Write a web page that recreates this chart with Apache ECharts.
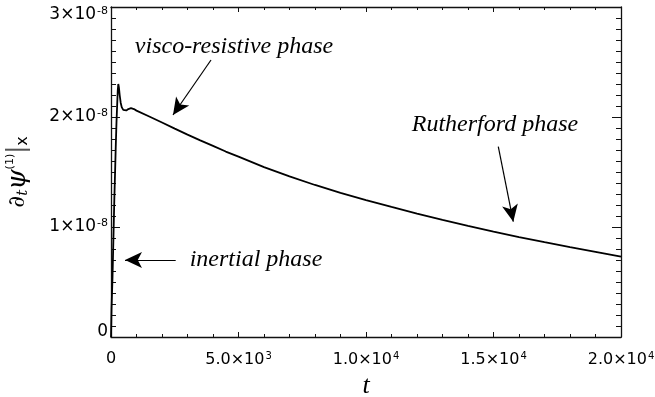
<!DOCTYPE html>
<html>
<head>
<meta charset="utf-8">
<script src="https://cdn.jsdelivr.net/npm/echarts@6/dist/echarts.min.js"></script>
<style>
  html, body { margin: 0; padding: 0; background: #fff; }
  #chart { width: 655px; height: 397px; }
</style>
</head>
<body>
<div id="chart"></div>
<script>
// time samples
const tValues = [
  0, 20, 60, 100, 130, 160, 185, 215, 240, 265, 286, 310, 340, 380, 420, 480,
  540, 600, 680, 784, 900, 1000, 1500, 2000, 2500, 3000, 3500, 4000, 4500, 5000,
  6000, 7000, 8000, 9000, 10000, 11000, 12000, 13000, 14000, 15000, 16000,
  17000, 18000, 19000, 20000
]
// d_t psi^(1) at x, in units of 1e-8
const psiValues = [
  0, 0.25, 0.55, 0.95, 1.25, 1.5, 1.72, 1.95, 2.1, 2.24, 2.30, 2.27, 2.20, 2.13, 2.09, 2.065,
  2.055, 2.06, 2.072, 2.08, 2.072, 2.058, 2.005, 1.95, 1.894, 1.84, 1.788, 1.737, 1.686, 1.64,
  1.545, 1.46, 1.382, 1.31, 1.245, 1.182, 1.122, 1.065, 1.011, 0.959, 0.909,
  0.862, 0.817, 0.774, 0.731
]
// axis tick labels
const xTickLabels = { 0: '0', 5000: '5.0×10|3', 10000: '1.0×10|4', 15000: '1.5×10|4', 20000: '2.0×10|4' }
const yTickLabels = { 0: '0', 1: '1×10|-8', 2: '2×10|-8', 3: '3×10|-8' }
// annotations: text, text position [t, psi], arrow tail, arrow head
const phaseNames = ['visco-resistive phase', 'Rutherford phase', 'inertial phase']
const phaseTextAt = [[4824, 2.636], [15059, 1.927], [5686, 0.70]]
const arrowFrom = [[3922, 2.518], [15188, 1.73], [2537, 0.70]]
const arrowTo = [[2431, 2.018], [15776, 1.048], [549, 0.70]]

const chart = echarts.init(document.getElementById('chart'))

function tickRich(size) {
  return {
    n: { fontFamily: 'DejaVu Sans', fontSize: size, color: '#000' },
    s: { fontFamily: 'DejaVu Sans', fontSize: size - 6, color: '#000', verticalAlign: 'top', padding: [0, 0, 8, 1] },
    // top label sits a little lower, bottom one a little higher
    nt: { fontFamily: 'DejaVu Sans', fontSize: size, color: '#000', padding: [16, 0, 0, 0] },
    st: { fontFamily: 'DejaVu Sans', fontSize: size - 6, color: '#000', verticalAlign: 'top', padding: [16, 0, 8, 1] },
    nb: { fontFamily: 'DejaVu Sans', fontSize: size, color: '#000', padding: [0, 0, 10, 0] }
  }
}
function fmt(map, v, pre) {
  const s = map[Math.round(v * 1000) / 1000]
  if (s === undefined) return ''
  const p = s.split('|')
  const n = pre ? 'n' + pre : 'n'
  const sp = pre ? 's' + pre : 's'
  return p.length > 1 ? `{${n}|${p[0]}}{${sp}|${p[1]}}` : `{${n}|${p[0]}}`
}

const axisLine = { show: true, onZero: false, lineStyle: { color: '#111', width: 1.3 } }

const xBase = {
  type: 'value', min: 0, max: 20000, interval: 5000,
  axisLine: axisLine,
  splitLine: { show: false },
  axisTick: { show: true, inside: true, length: 5, lineStyle: { color: '#111' } },
  minorTick: { show: true, splitNumber: 5, length: 3, lineStyle: { color: '#111' } }
}
const yBase = {
  type: 'value', min: 0, max: 3, interval: 1,
  axisLine: axisLine,
  splitLine: { show: false },
  axisTick: { show: true, inside: true, length: 9, lineStyle: { color: '#111' } },
  minorTick: { show: true, splitNumber: 10, length: 5, lineStyle: { color: '#111' } }
}

const option = {
  animation: false,
  backgroundColor: '#fff',
  grid: { left: 111, right: 34, top: 7, bottom: 60, containLabel: false, outerBoundsMode: 'none' },
  xAxis: [
    Object.assign({}, xBase, {
      position: 'bottom',
      name: 't', nameLocation: 'middle', nameGap: 29,
      nameTextStyle: { fontFamily: 'Liberation Serif', fontStyle: 'italic', fontSize: 26, color: '#000' },
      axisLabel: { margin: 14, formatter: v => fmt(xTickLabels, v), rich: tickRich(16) }
    }),
    Object.assign({}, xBase, { position: 'top', axisLabel: { show: false } })
  ],
  yAxis: [
    Object.assign({}, yBase, {
      position: 'left',
      name: '{d|∂}{sub|t}{p|ψ}{sup|(1)}{bar||}{sub2|x}',
      nameLocation: 'middle', nameGap: 80, nameRotate: 90,
      nameTextStyle: {
        color: '#000',
        rich: {
          d: { fontFamily: 'DejaVu Serif', fontSize: 23, color: '#000' },
          sub: { fontFamily: 'DejaVu Serif', fontStyle: 'italic', fontSize: 15, color: '#000', verticalAlign: 'bottom', padding: [8, 0, 0, 0] },
          p: { fontFamily: 'DejaVu Serif', fontStyle: 'italic', fontSize: 26, color: '#000' },
          sup: { fontFamily: 'DejaVu Sans', fontSize: 11, color: '#000', verticalAlign: 'top', padding: [0, 0, 13, 0] },
          bar: { fontFamily: 'DejaVu Sans', fontSize: 24, color: '#555' },
          sub2: { fontFamily: 'DejaVu Sans', fontSize: 16, color: '#000', verticalAlign: 'bottom', padding: [8, 0, 0, 0] }
        }
      },
      axisLabel: {
        margin: 3, rich: tickRich(17),
        formatter: v => fmt(yTickLabels, v, v === 3 ? 't' : (v === 0 ? 'b' : ''))
      }
    }),
    Object.assign({}, yBase, { position: 'right', axisLabel: { show: false } })
  ],
  series: [{
    type: 'line',
    data: tValues.map((t, i) => [t, psiValues[i]]),
    showSymbol: false,
    lineStyle: { color: '#000', width: 1.8 },
    z: 3,
    markPoint: {
      symbol: 'circle', symbolSize: 0, silent: true,
      label: {
        show: true, position: 'inside', color: '#000',
        fontFamily: 'Liberation Serif', fontStyle: 'italic', fontSize: 24,
        formatter: p => p.name
      },
      data: phaseNames.map((n, i) => ({ name: n, coord: phaseTextAt[i] }))
    },
    markLine: {
      silent: true,
      symbol: ['none', 'arrow'],
      symbolSize: [12, 17],
      label: { show: false },
      lineStyle: { color: '#000', width: 1.2, type: 'solid' },
      data: arrowFrom.map((a, i) => [{ coord: a }, { coord: arrowTo[i] }])
    }
  }]
}
chart.setOption(option)
</script>
</body>
</html>
